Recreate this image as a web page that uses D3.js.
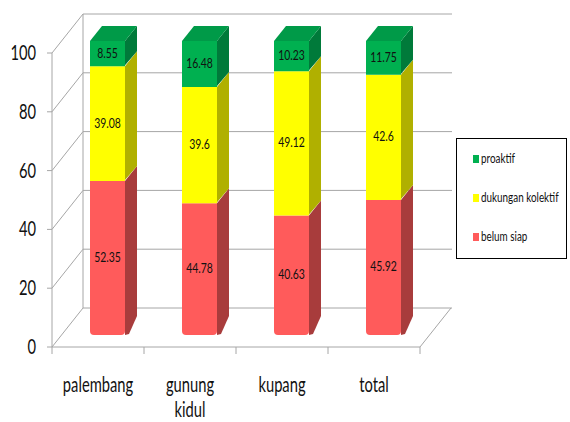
<!DOCTYPE html>
<html>
  <head>
    <meta charset="utf-8" />
    <style>
      body{
        margin: 0;
        background: white;
        font-family: Lato, 'Open Sans', sans-serif;
      }
    </style>
  </head>
  <body>
    <script src="https://d3js.org/d3.v7.min.js"></script>
    <svg id="chart"></svg>
    <script>
      var categories = [["palembang"], ["gunung", "kidul"], ["kupang"], ["total"]];
      var belumSiap = [52.35, 44.78, 40.63, 45.92];
      var dukungan = [39.08, 39.6, 49.12, 42.6];
      var proaktif = [8.55, 16.48, 10.23, 11.75];
      var seriesNames = ["belum siap", "dukungan kolektif", "proaktif"];
      var yTicks = [0, 20, 40, 60, 80, 100];

      var width = 570;
      var height = 422;

      // colours: front, side, top
      var colors = {
        "belum siap": ["#FF5B5B", "#A83C3C", "#D04848"],
        "dukungan kolektif": ["#FFFF00", "#B0B000", "#D8D800"],
        "proaktif": ["#00B050", "#007A3A", "#009A48"]
      };

      var svg = d3.select("#chart").attr("width", width).attr("height", height);

      // front plane of the 3d box, plus depth offset
      var x0 = 52, x1 = 420;
      var depthX = 31, depthY = -39;
      var barOffX = 9.5, barOffY = -12;
      var barDX = 12, barDY = -15;
      var barW = 35;

      var y = d3.scaleLinear().domain([0, 100]).range([347, 53]);
      var x = d3.scaleBand()
        .domain(categories.map(function (c) { return c.join(" "); }))
        .range([x0, x1]);

      var grid = svg.append("g").attr("stroke", "#A6A6A6").attr("stroke-width", 1).attr("fill", "none");

      // back wall gridlines + side wall diagonals
      yTicks.forEach(function (t) {
        var yy = y(t);
        grid.append("line")
          .attr("x1", x0 + depthX).attr("y1", yy + depthY)
          .attr("x2", x1 + depthX + 1).attr("y2", yy + depthY);
        grid.append("line")
          .attr("x1", x0).attr("y1", yy)
          .attr("x2", x0 + depthX).attr("y2", yy + depthY);
        grid.append("line")
          .attr("x1", x0 - 5).attr("y1", yy)
          .attr("x2", x0).attr("y2", yy);
      });
      grid.append("line")
        .attr("x1", x0 + depthX).attr("y1", y(0) + depthY)
        .attr("x2", x0 + depthX).attr("y2", y(100) + depthY);
      grid.append("line")
        .attr("x1", x0).attr("y1", y(0))
        .attr("x2", x0).attr("y2", y(100));
      // floor
      grid.append("line")
        .attr("x1", x0).attr("y1", y(0))
        .attr("x2", x1).attr("y2", y(0));
      grid.append("line")
        .attr("x1", x1).attr("y1", y(0))
        .attr("x2", x1 + depthX).attr("y2", y(0) + depthY);
      // category ticks
      d3.range(categories.length + 1).forEach(function (i) {
        var xx = x0 + i * x.step();
        grid.append("line")
          .attr("x1", xx).attr("y1", y(0))
          .attr("x2", xx).attr("y2", y(0) + 7);
      });

      // y tick labels
      svg.append("g").selectAll("text")
        .data(yTicks)
        .enter()
        .append("text")
        .attr("transform", function (d) { return "translate(36," + (y(d) + 7) + ") scale(0.92,1.35)"; })
        .attr("text-anchor", "end")
        .attr("font-size", 16)
        .attr("fill", "#111")
        .text(function (d) { return d; });

      // category labels
      categories.forEach(function (c) {
        var cx = x(c.join(" ")) + x.bandwidth() / 2;
        c.forEach(function (line, i) {
          svg.append("text")
            .attr("transform", "translate(" + cx + "," + (392 + i * 25) + ") scale(0.92,1.35)")
            .attr("text-anchor", "middle")
            .attr("font-size", 16)
            .attr("fill", "#111")
            .text(line);
        });
      });

      // stacked bars
      var rows = categories.map(function (c, i) {
        return {
          name: c.join(" "),
          "belum siap": belumSiap[i],
          "dukungan kolektif": dukungan[i],
          "proaktif": proaktif[i]
        };
      });
      var stacked = d3.stack().keys(seriesNames)(rows);

      var yb = function (v) { return y(Math.min(v, 100)) + barOffY; };

      var bars = svg.append("g");
      rows.forEach(function (row, i) {
        var fx = x(row.name) + x.bandwidth() / 2 - barW / 2 + barOffX;
        stacked.forEach(function (s, si) {
          var seg = s[i];
          var yTop = yb(seg[1]);
          var yBot = yb(seg[0]);
          var col = colors[s.key];
          var r = si === 0 ? 4 : 0;
          // side face
          bars.append("path")
            .attr("d", "M" + (fx + barW) + "," + yTop +
              "L" + (fx + barW + barDX) + "," + (yTop + barDY) +
              "L" + (fx + barW + barDX) + "," + (yBot + barDY - r) +
              "L" + (fx + barW + r) + "," + (yBot - 1) +
              "L" + (fx + barW) + "," + yBot + "Z")
            .attr("fill", col[1]);
          // front face
          bars.append("path")
            .attr("d", "M" + fx + "," + yTop +
              "L" + (fx + barW) + "," + yTop +
              "L" + (fx + barW) + "," + (yBot - r) +
              "Q" + (fx + barW) + "," + yBot + " " + (fx + barW - r) + "," + yBot +
              "L" + (fx + r) + "," + yBot +
              "Q" + fx + "," + yBot + " " + fx + "," + (yBot - r) + "Z")
            .attr("fill", col[0]);
          if (si === stacked.length - 1) {
            bars.append("path")
              .attr("d", "M" + fx + "," + yTop +
                "L" + (fx + barDX) + "," + (yTop + barDY) +
                "L" + (fx + barW + barDX) + "," + (yTop + barDY) +
                "L" + (fx + barW) + "," + yTop + "Z")
              .attr("fill", col[2]);
          }
          bars.append("text")
            .attr("transform", "translate(" + (fx + barW / 2) + "," + ((yTop + yBot) / 2 + 4) + ") scale(0.95,1.3)")
            .attr("text-anchor", "middle")
            .attr("font-size", 11)
            .attr("fill", "#111")
            .text(seg.data[s.key]);
        });
      });

      // legend
      var legend = svg.append("g");
      legend.append("rect")
        .attr("x", 456.5).attr("y", 138.5)
        .attr("width", 110).attr("height", 120)
        .attr("fill", "white").attr("stroke", "#000").attr("stroke-width", 1);
      var legendItems = ["proaktif", "dukungan kolektif", "belum siap"];
      legendItems.forEach(function (name, i) {
        var ly = 159 + i * 39;
        legend.append("rect")
          .attr("x", 473).attr("y", ly - 4)
          .attr("width", 6).attr("height", 8)
          .attr("fill", colors[name][0]);
        legend.append("text")
          .attr("transform", "translate(481," + (ly + 4) + ") scale(0.9,1.3)")
          .attr("font-size", 11)
          .attr("fill", "#111")
          .text(name);
      });
    </script>
  </body>
</html>
